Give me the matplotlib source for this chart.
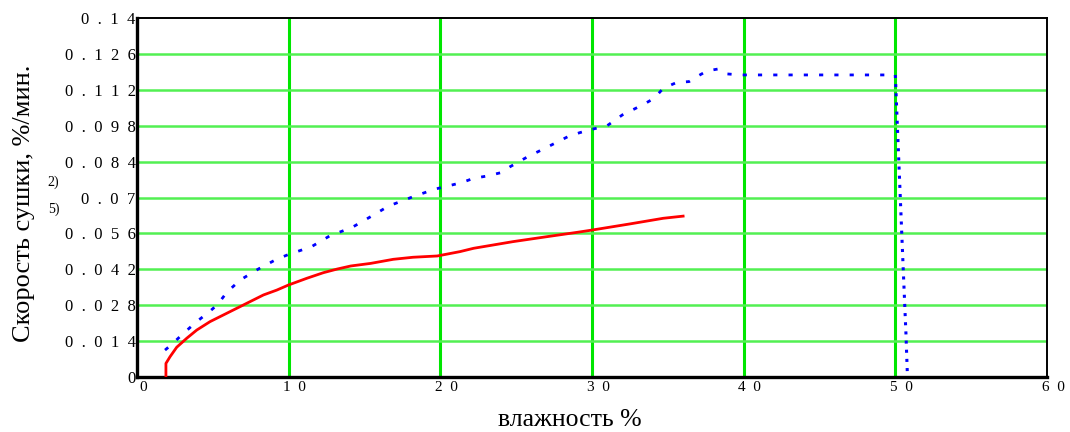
import matplotlib
matplotlib.use("Agg")
import matplotlib.pyplot as plt
import matplotlib.transforms as mtransforms
from matplotlib.ticker import FixedLocator, FuncFormatter

# кривая 1 (сплошная красная)
red_x = [1.91, 1.91, 2.18, 2.62, 3.28, 3.94, 4.82, 5.7, 6.58, 7.46, 8.34, 9.22,
         10.0, 11.2, 12.3, 13.2, 14.1, 15.4, 16.9, 18.2, 19.8, 21.3, 22.2, 24.8,
         27.0, 29.0, 30.0, 32.5, 34.7, 36.1]
red_y = [0.0, 0.0053, 0.0079, 0.0116, 0.0151, 0.0183, 0.0216, 0.0242, 0.0268,
         0.0294, 0.032, 0.0339, 0.0359, 0.0385, 0.0407, 0.0421, 0.0433, 0.0443,
         0.0459, 0.0467, 0.0472, 0.0489, 0.0502, 0.0528, 0.0547, 0.0564, 0.0573,
         0.0597, 0.0619, 0.0628]

# кривая 2 (пунктирная синяя)
blue_x = [1.85, 2.29, 3.06, 3.94, 4.82, 5.32, 5.92, 6.8, 8.0, 9.2, 10.0, 11.5,
          12.7, 14.2, 15.4, 16.6, 18.2, 19.6, 21.4, 22.2, 23.1, 24.0, 24.6,
          25.7, 27.1, 28.4, 29.2, 30.0, 31.0, 32.0, 33.4, 34.1, 34.7, 35.6,
          36.4, 36.9, 37.6, 38.3, 38.9, 39.8, 50.0, 50.1, 50.3, 50.5, 50.7, 50.8]
blue_y = [0.0105, 0.0127, 0.017, 0.0216, 0.0257, 0.0283, 0.033, 0.0378, 0.0421,
          0.0459, 0.0478, 0.0508, 0.055, 0.0584, 0.0625, 0.0667, 0.0703, 0.0732,
          0.0758, 0.0775, 0.0784, 0.0797, 0.082, 0.0857, 0.0898, 0.0937, 0.0953,
          0.0966, 0.098, 0.1022, 0.1063, 0.1087, 0.1126, 0.1149, 0.1152, 0.1171,
          0.1194, 0.1201, 0.1182, 0.1178, 0.1178, 0.103, 0.074, 0.045, 0.017, 0.0]
blue_drop = 40  # индекс начала вертикального спада

x_ticks = [0, 10, 20, 30, 40, 50, 60]
y_ticks = [0, 0.014, 0.028, 0.042, 0.056, 0.07, 0.084, 0.098, 0.112, 0.126, 0.14]

serif = ["Liberation Serif", "DejaVu Serif"]
plt.rcParams["font.family"] = serif


def fmt_y(v, pos=None):
    s = ("%.3f" % v).rstrip("0").rstrip(".")
    return "\u2002".join(s)


def fmt_x(v, pos=None):
    return "\u2002".join("%d" % v)


fig = plt.figure(figsize=(10.7, 4.32), dpi=100)
ax = fig.add_axes([0.128, 0.1273, 0.8505, 0.831])

ax.plot(red_x, red_y, color="red", lw=2, solid_capstyle="butt", zorder=3)
ax.plot(blue_x[:blue_drop + 1], blue_y[:blue_drop + 1], color="blue", lw=2,
        linestyle=(0, (1.5, 4)), zorder=3)
ax.plot(blue_x[blue_drop:], blue_y[blue_drop:], color="blue", lw=2.2,
        linestyle=(0, (1, 2)), zorder=3)

ax.set_xlim(0, 60)
ax.set_ylim(0, 0.14)
ax.xaxis.set_major_locator(FixedLocator(x_ticks))
ax.yaxis.set_major_locator(FixedLocator(y_ticks))
ax.xaxis.set_major_formatter(FuncFormatter(fmt_x))
ax.yaxis.set_major_formatter(FuncFormatter(fmt_y))
ax.tick_params(axis="both", length=0)
ax.tick_params(axis="x", pad=3, labelsize=11)
ax.tick_params(axis="y", pad=1, labelsize=12)

# подписи оси x немного смещены вправо
shift = mtransforms.ScaledTranslation(6 / 100, 0, fig.dpi_scale_trans)
for lbl in ax.get_xticklabels():
    lbl.set_transform(lbl.get_transform() + shift)

# сетка
for xv in x_ticks[1:-1]:
    ax.axvline(xv, color="#00e600", lw=2.2, zorder=1)
for yv in y_ticks[1:-1]:
    ax.axhline(yv, color="#52f052", lw=1.8, zorder=1)

for side in ["left", "bottom"]:
    ax.spines[side].set_linewidth(2.4)
for side in ["top", "right"]:
    ax.spines[side].set_linewidth(1.4)

fig.text(0.0224, 0.529, "Скорость сушки, %/мин.", fontsize=19, rotation=90,
         ha="center", va="center")
fig.text(0.533, 0.014, "влажность %", fontsize=18.5, ha="center", va="baseline")

fig.text(0.05, 0.578, "2)", fontsize=10, ha="center", va="center")
fig.text(0.05, 0.516, "5)", fontsize=10, ha="center", va="center")

fig.savefig("out.png", dpi=100)
